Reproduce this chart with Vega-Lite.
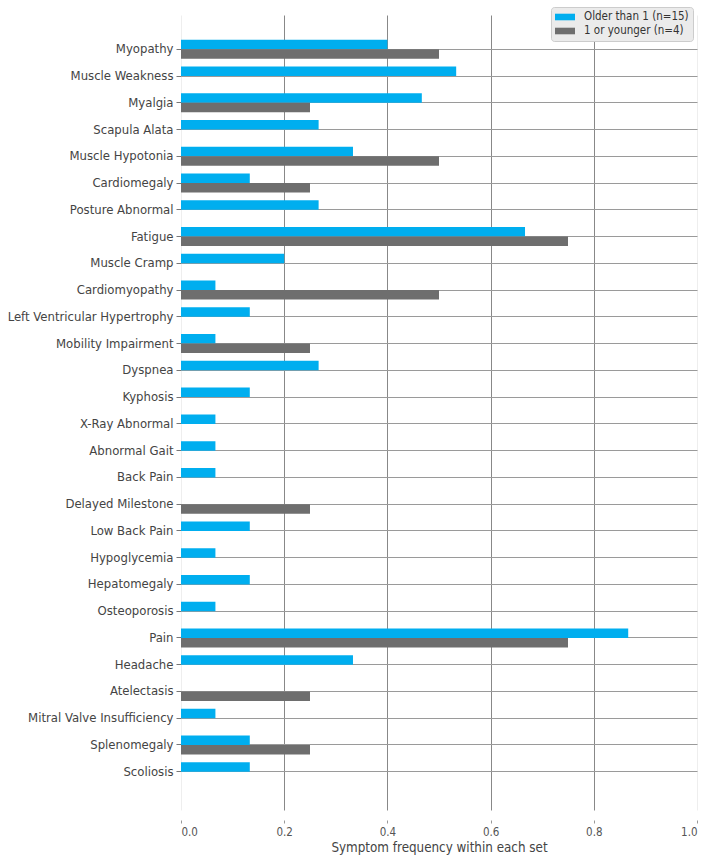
{
  "$schema": "https://vega.github.io/schema/vega-lite/v6.json",
  "width": 516,
  "height": 817,
  "autosize": {"type": "none"},
  "padding": {"left": 181, "top": 3, "right": 11, "bottom": 35},
  "background": "white",
  "config": {"view": {"stroke": null}, "font": "DejaVu Sans Condensed, DejaVu Sans"},
  "data": {"values": [
    {"symptom": "Myopathy", "group": "Older than 1 (n=15)", "freq": 0.4},
    {"symptom": "Myopathy", "group": "1 or younger (n=4)", "freq": 0.5},
    {"symptom": "Muscle Weakness", "group": "Older than 1 (n=15)", "freq": 0.5333},
    {"symptom": "Muscle Weakness", "group": "1 or younger (n=4)", "freq": 0},
    {"symptom": "Myalgia", "group": "Older than 1 (n=15)", "freq": 0.4667},
    {"symptom": "Myalgia", "group": "1 or younger (n=4)", "freq": 0.25},
    {"symptom": "Scapula Alata", "group": "Older than 1 (n=15)", "freq": 0.2667},
    {"symptom": "Scapula Alata", "group": "1 or younger (n=4)", "freq": 0},
    {"symptom": "Muscle Hypotonia", "group": "Older than 1 (n=15)", "freq": 0.3333},
    {"symptom": "Muscle Hypotonia", "group": "1 or younger (n=4)", "freq": 0.5},
    {"symptom": "Cardiomegaly", "group": "Older than 1 (n=15)", "freq": 0.1333},
    {"symptom": "Cardiomegaly", "group": "1 or younger (n=4)", "freq": 0.25},
    {"symptom": "Posture Abnormal", "group": "Older than 1 (n=15)", "freq": 0.2667},
    {"symptom": "Posture Abnormal", "group": "1 or younger (n=4)", "freq": 0},
    {"symptom": "Fatigue", "group": "Older than 1 (n=15)", "freq": 0.6667},
    {"symptom": "Fatigue", "group": "1 or younger (n=4)", "freq": 0.75},
    {"symptom": "Muscle Cramp", "group": "Older than 1 (n=15)", "freq": 0.2},
    {"symptom": "Muscle Cramp", "group": "1 or younger (n=4)", "freq": 0},
    {"symptom": "Cardiomyopathy", "group": "Older than 1 (n=15)", "freq": 0.0667},
    {"symptom": "Cardiomyopathy", "group": "1 or younger (n=4)", "freq": 0.5},
    {"symptom": "Left Ventricular Hypertrophy", "group": "Older than 1 (n=15)", "freq": 0.1333},
    {"symptom": "Left Ventricular Hypertrophy", "group": "1 or younger (n=4)", "freq": 0},
    {"symptom": "Mobility Impairment", "group": "Older than 1 (n=15)", "freq": 0.0667},
    {"symptom": "Mobility Impairment", "group": "1 or younger (n=4)", "freq": 0.25},
    {"symptom": "Dyspnea", "group": "Older than 1 (n=15)", "freq": 0.2667},
    {"symptom": "Dyspnea", "group": "1 or younger (n=4)", "freq": 0},
    {"symptom": "Kyphosis", "group": "Older than 1 (n=15)", "freq": 0.1333},
    {"symptom": "Kyphosis", "group": "1 or younger (n=4)", "freq": 0},
    {"symptom": "X-Ray Abnormal", "group": "Older than 1 (n=15)", "freq": 0.0667},
    {"symptom": "X-Ray Abnormal", "group": "1 or younger (n=4)", "freq": 0},
    {"symptom": "Abnormal Gait", "group": "Older than 1 (n=15)", "freq": 0.0667},
    {"symptom": "Abnormal Gait", "group": "1 or younger (n=4)", "freq": 0},
    {"symptom": "Back Pain", "group": "Older than 1 (n=15)", "freq": 0.0667},
    {"symptom": "Back Pain", "group": "1 or younger (n=4)", "freq": 0},
    {"symptom": "Delayed Milestone", "group": "Older than 1 (n=15)", "freq": 0},
    {"symptom": "Delayed Milestone", "group": "1 or younger (n=4)", "freq": 0.25},
    {"symptom": "Low Back Pain", "group": "Older than 1 (n=15)", "freq": 0.1333},
    {"symptom": "Low Back Pain", "group": "1 or younger (n=4)", "freq": 0},
    {"symptom": "Hypoglycemia", "group": "Older than 1 (n=15)", "freq": 0.0667},
    {"symptom": "Hypoglycemia", "group": "1 or younger (n=4)", "freq": 0},
    {"symptom": "Hepatomegaly", "group": "Older than 1 (n=15)", "freq": 0.1333},
    {"symptom": "Hepatomegaly", "group": "1 or younger (n=4)", "freq": 0},
    {"symptom": "Osteoporosis", "group": "Older than 1 (n=15)", "freq": 0.0667},
    {"symptom": "Osteoporosis", "group": "1 or younger (n=4)", "freq": 0},
    {"symptom": "Pain", "group": "Older than 1 (n=15)", "freq": 0.8667},
    {"symptom": "Pain", "group": "1 or younger (n=4)", "freq": 0.75},
    {"symptom": "Headache", "group": "Older than 1 (n=15)", "freq": 0.3333},
    {"symptom": "Headache", "group": "1 or younger (n=4)", "freq": 0},
    {"symptom": "Atelectasis", "group": "Older than 1 (n=15)", "freq": 0},
    {"symptom": "Atelectasis", "group": "1 or younger (n=4)", "freq": 0.25},
    {"symptom": "Mitral Valve Insufficiency", "group": "Older than 1 (n=15)", "freq": 0.0667},
    {"symptom": "Mitral Valve Insufficiency", "group": "1 or younger (n=4)", "freq": 0},
    {"symptom": "Splenomegaly", "group": "Older than 1 (n=15)", "freq": 0.1333},
    {"symptom": "Splenomegaly", "group": "1 or younger (n=4)", "freq": 0.25},
    {"symptom": "Scoliosis", "group": "Older than 1 (n=15)", "freq": 0.1333},
    {"symptom": "Scoliosis", "group": "1 or younger (n=4)", "freq": 0}
  ]},
  "mark": {"type": "bar"},
  "encoding": {
    "y": {
      "field": "symptom",
      "type": "nominal",
      "sort": null,
      "scale": {"paddingInner": 0.29, "paddingOuter": 1, "range": [10, 805]},
      "axis": {
        "title": null,
        "grid": true,
        "gridColor": "#9a9a9a",
        "gridWidth": 1,
        "bandPosition": 0.5,
        "tickBand": "center",
        "domain": false,
        "ticks": true,
        "tickSize": 5,
        "tickColor": "#777777",
        "labelFontSize": 13,
        "labelColor": "#444444",
        "labelPadding": 3,
        "labelLimit": 300
      }
    },
    "yOffset": {
      "field": "group",
      "type": "nominal",
      "sort": ["Older than 1 (n=15)", "1 or younger (n=4)"]
    },
    "x": {
      "field": "freq",
      "type": "quantitative",
      "scale": {"domain": [0, 1], "nice": false},
      "axis": {
        "title": "Symptom frequency within each set",
        "titleFontSize": 13.3,
        "titleFontWeight": "normal",
        "titleColor": "#444444",
        "titlePadding": 3,
        "values": [0, 0.2, 0.4, 0.6, 0.8, 1],
        "format": ".1f",
        "grid": true,
        "gridColor": {"condition": {"test": "datum.value == 0 || datum.value == 1", "value": "#eeeeee"}, "value": "#888888"},
        "gridWidth": 1,
        "domain": false,
        "ticks": true,
        "tickSize": 3,
        "tickColor": "#999999",
        "labelFontSize": 11.5,
        "labelColor": "#555555",
        "labelPadding": 3
      }
    },
    "color": {
      "field": "group",
      "type": "nominal",
      "scale": {
        "domain": ["Older than 1 (n=15)", "1 or younger (n=4)"],
        "range": ["#00aeef", "#6e6e6e"]
      },
      "legend": {
        "title": null,
        "orient": "top-right",
        "offset": 4,
        "fillColor": "#ebebeb",
        "strokeColor": "#cccccc",
        "cornerRadius": 3,
        "padding": 4,
        "rowPadding": 2,
        "labelFontSize": 11.5,
        "labelColor": "#333333",
        "labelOffset": 17,
        "symbolType": "M-1,-0.55H2.333V0.55H-1Z",
        "symbolSize": 144,
        "symbolStrokeWidth": 0,
        "symbolOpacity": 1
      }
    }
  }
}
